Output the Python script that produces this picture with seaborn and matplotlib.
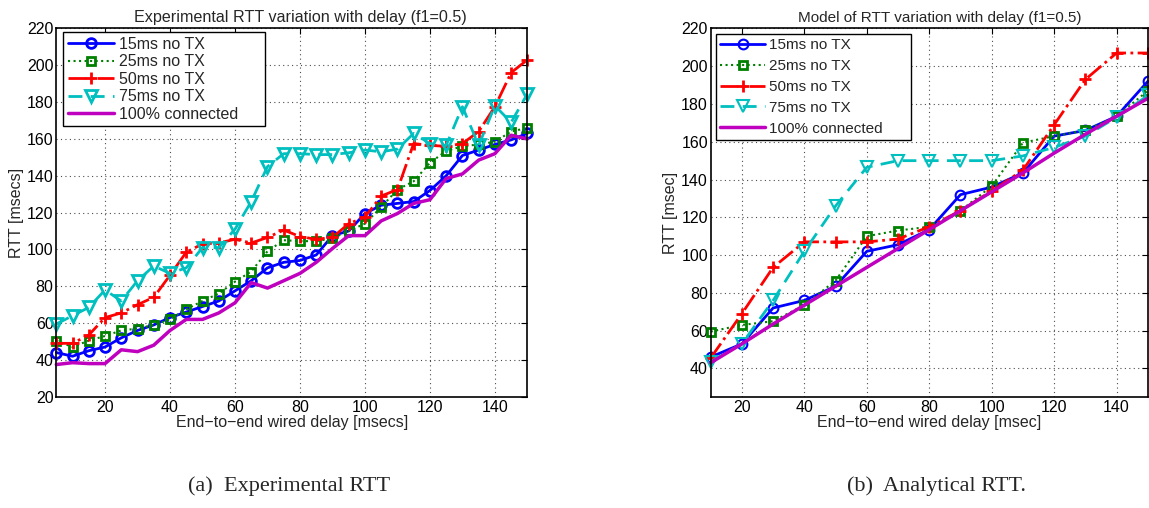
import matplotlib
matplotlib.use('Agg')
import matplotlib.pyplot as plt
import seaborn as sns
import numpy as np

# Experimental RTT (left panel)
exp_delay = list(range(5, 151, 5))
exp_15ms = [44, 42, 45, 47, 52, 56, 59, 63, 66, 69, 72, 77.5, 83, 90, 93, 94, 97, 107.5, 110, 119.5,
            124, 125, 126, 132, 140, 151, 154, 157, 159.5, 163]
exp_25ms = [50.5, 47, 50.5, 53, 56, 57, 59, 62, 67.5, 72, 76, 82.5, 88, 99, 105, 104.5, 104.5, 106, 110, 114,
            123, 132.5, 137, 147, 153.5, 156, 157, 158.5, 164, 166]
exp_50ms = [49, 49, 53.5, 63, 65.5, 70, 74, 86, 98.5, 103, 103.5, 105.5, 103.5, 106.5, 110.5, 107, 105.5, 106.5, 114, 117.5,
            129, 132.5, 157.5, 156.5, 156, 157.5, 164, 177.5, 196, 203]
exp_75ms = [59.5, 64, 68.5, 78, 72, 83, 91, 87, 90, 101, 101, 111, 126, 145, 152, 152, 151.5, 151.5, 152.5, 154,
            153, 154.5, 163, 157.5, 156.5, 177.5, 156.5, 178, 169, 184.5]
exp_full = [37.5, 38.5, 38, 38, 45.5, 44.5, 48, 56, 62, 62, 65.5, 71, 82, 79, 83, 87, 93, 100.5, 107.5, 107.5,
            115.5, 119.5, 125, 127, 138.5, 141, 148.5, 152, 162, 160]

# Analytical RTT (right panel)
mod_delay = list(range(10, 151, 10))
mod_15ms = [46, 53, 72, 76, 83.5, 102, 105.5, 113.5, 132, 136, 143.5, 163, 166, 173.5, 192]
mod_25ms = [59.5, 63, 65, 73.5, 86.5, 110, 113, 115, 123.5, 136.5, 159.5, 163, 166, 173.5, 187]
mod_50ms = [45.5, 69, 93.5, 107, 107, 107, 108.5, 115, 123.5, 134, 145, 169, 193, 207, 207]
mod_75ms = [43.5, 53, 76, 102, 126, 146.5, 150, 150, 150, 150, 152.5, 157, 163, 173, 184.5]
mod_full = [43, 53, 63.5, 73.5, 83.5, 93.5, 103.5, 113.5, 123.5, 133.5, 143.5, 154, 164, 173.5, 183]

labels = ['15ms no TX', '25ms no TX', '50ms no TX', '75ms no TX', '100% connected']

sns.set_style('white')
plt.rcParams['font.family'] = ['Liberation Sans', 'DejaVu Sans']
plt.rcParams['xtick.direction'] = 'in'
plt.rcParams['ytick.direction'] = 'in'

BLUE = (0, 0, 1)
GREEN = (0, 0.5, 0)
RED = (1, 0, 0)
CYAN = (0, 0.75, 0.75)
MAGENTA = (0.75, 0, 0.75)


def draw_panel(ax, x, series, mew, title, title_x, xlabel, ylabel, tfs, lfs, leg_spacing, leg_box):
    s15, s25, s50, s75, sfull = series
    sns.lineplot(x=x, y=s15, ax=ax, color=BLUE, lw=2, marker='o', ms=7,
                 mfc='none', mec=BLUE, mew=mew, label=labels[0], clip_on=False)
    sns.lineplot(x=x, y=s25, ax=ax, color=GREEN, lw=1.5, linestyle=':', marker='s', ms=6,
                 mfc='none', mec=GREEN, mew=2, label=labels[1], clip_on=False)
    sns.lineplot(x=x, y=s50, ax=ax, color=RED, lw=2, linestyle='-.', marker='+', ms=9,
                 mec=RED, mew=2, label=labels[2], clip_on=False)
    sns.lineplot(x=x, y=s75, ax=ax, color=CYAN, lw=2, linestyle=(0, (5, 3)), marker='v', ms=8.5,
                 mfc='none', mec=CYAN, mew=mew, label=labels[3], clip_on=False)
    sns.lineplot(x=x, y=sfull, ax=ax, color=MAGENTA, lw=2.5, label=labels[4], clip_on=False)

    ax.grid(True, linestyle=(0, (1, 3)), color='k', linewidth=0.8, alpha=0.7)
    ax.tick_params(top=True, right=True, length=4, labelsize=11.5, pad=2, colors='k')
    for sp in ax.spines.values():
        sp.set_color('k')
        sp.set_linewidth(1.2)
        sp.set_zorder(5)
    ax.set_title(title, fontsize=tfs, pad=5, x=title_x)
    ax.set_xlabel(xlabel, fontsize=11.5, labelpad=0)
    ax.set_ylabel(ylabel, fontsize=11.5, labelpad=2)
    leg = ax.legend(loc='upper left', bbox_to_anchor=leg_box, mode='expand', fontsize=lfs,
                    fancybox=False, edgecolor='k', framealpha=1, handlelength=2.9,
                    labelspacing=leg_spacing, borderaxespad=0, handletextpad=0.3, borderpad=0.3)
    leg.get_frame().set_linewidth(1.0)
    leg.set_zorder(10)


fig = plt.figure(figsize=(11.49, 5.08), dpi=100)
ax1 = fig.add_axes([0.049, 0.219, 0.410, 0.725])
ax2 = fig.add_axes([0.6185, 0.219, 0.3805, 0.725])

draw_panel(ax1, exp_delay, [exp_15ms, exp_25ms, exp_50ms, exp_75ms, exp_full], 2,
           'Experimental RTT variation with delay (f1=0.5)', 0.518,
           'End\u2212to\u2212end wired delay [msecs]', 'RTT [msecs]', 11.6, 11.5, 0.15,
           (0.0143, 0.5, 0.4287, 0.49))
ax1.set_xlim(5, 150)
ax1.set_ylim(20, 220)
ax1.set_xticks(np.arange(20, 141, 20))
ax1.set_yticks(np.arange(20, 221, 20))

draw_panel(ax2, mod_delay, [mod_15ms, mod_25ms, mod_50ms, mod_75ms, mod_full], 1.5,
           'Model of RTT variation with delay (f1=0.5)', 0.523,
           'End\u2212to\u2212end wired delay [msec]', 'RTT [msec]', 11, 11, 0.45,
           (0.012, 0.5, 0.446, 0.486))
ax2.set_xlim(10, 150)
ax2.set_ylim(25, 220)
ax2.set_xticks(np.arange(20, 141, 20))
ax2.set_yticks(np.arange(40, 221, 20))

fig.text(0.252, 0.043, '(a)  Experimental RTT', ha='center', va='center',
         fontsize=16, family='Liberation Serif')
fig.text(0.815, 0.043, '(b)  Analytical RTT.', ha='center', va='center',
         fontsize=16, family='Liberation Serif')

fig.savefig('out.png', dpi=100)
